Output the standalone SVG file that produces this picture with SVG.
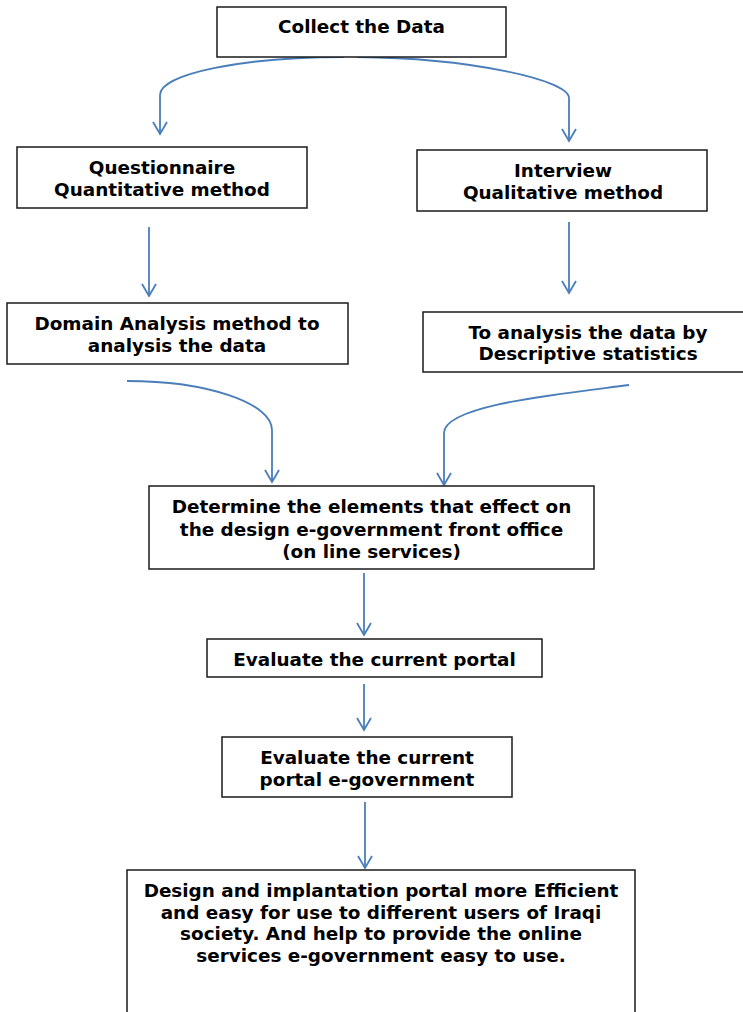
<svg xmlns="http://www.w3.org/2000/svg" width="743" height="1012" viewBox="0 0 743 1012">
<style>
.box{fill:#fff;stroke:#1a1a1a;stroke-width:1.5}
.t{font-family:"DejaVu Sans","Verdana",sans-serif;font-weight:bold;font-size:18.4px;fill:#000;text-anchor:middle}
.c{fill:none;stroke:#4A7EBB;stroke-width:1.8;marker-end:url(#ah)}
</style>
<defs>
<marker id="ah" markerUnits="userSpaceOnUse" markerWidth="20" markerHeight="20" viewBox="-14 -10 20 20" refX="0" refY="0" orient="auto">
<path d="M-12,-7 L0,0 L-12,7" fill="none" stroke="#4A7EBB" stroke-width="1.8"/>
</marker>
</defs>
<rect width="743" height="1012" fill="#fff"/>
<g id="connectors">
<path class="c" d="M344,57 C242,57 160,74 160,95 L160,134"/>
<path class="c" d="M357,57 C470,58 569,80 569,98 L569,141"/>
<path class="c" d="M149,227 L149,296"/>
<path class="c" d="M569,222 L569,293"/>
<path class="c" d="M127,381 C207,381 272,403 272,430 L272,482"/>
<path class="c" d="M629,385 C560,394 444,405 444,433 L444,485"/>
<path class="c" d="M364,573 L364,635"/>
<path class="c" d="M364,684 L364,730"/>
<path class="c" d="M365,802 L365,868"/>
</g>
<g id="collect">
<rect class="box" x="217" y="7" width="289" height="50"/>
<text class="t" x="361.5" y="33">Collect the Data</text>
</g>
<g id="questionnaire">
<rect class="box" x="17" y="147" width="290" height="61"/>
<text class="t" x="162" y="174">Questionnaire</text>
<text class="t" x="162" y="196">Quantitative method</text>
</g>
<g id="interview">
<rect class="box" x="417" y="150" width="290" height="61"/>
<text class="t" x="563" y="177">Interview</text>
<text class="t" x="563" y="199">Qualitative method</text>
</g>
<g id="domain">
<rect class="box" x="7" y="303" width="341" height="61"/>
<text class="t" x="177" y="330">Domain Analysis method to</text>
<text class="t" x="177" y="352">analysis the data</text>
</g>
<g id="descriptive">
<rect class="box" x="423" y="312" width="332" height="60"/>
<text class="t" x="588" y="339">To analysis the data by</text>
<text class="t" x="588" y="360">Descriptive statistics</text>
</g>
<g id="determine">
<rect class="box" x="149" y="486" width="445" height="83"/>
<text class="t" x="371.5" y="513">Determine the elements that effect on</text>
<text class="t" x="371.5" y="535.5">the design e-government front office</text>
<text class="t" x="371.5" y="558">(on line services)</text>
</g>
<g id="evaluate1">
<rect class="box" x="207" y="639" width="335" height="38"/>
<text class="t" x="374.5" y="666">Evaluate the current portal</text>
</g>
<g id="evaluate2">
<rect class="box" x="222" y="737" width="290" height="60"/>
<text class="t" x="367" y="764">Evaluate the current</text>
<text class="t" x="367" y="786">portal e-government</text>
</g>
<g id="design">
<rect class="box" x="127" y="870" width="508" height="160"/>
<text class="t" x="381" y="897">Design and implantation portal more Efficient</text>
<text class="t" x="381" y="918.5">and easy for use to different users of Iraqi</text>
<text class="t" x="381" y="940">society. And help to provide the online</text>
<text class="t" x="381" y="961.5">services e-government easy to use.</text>
</g>
</svg>
